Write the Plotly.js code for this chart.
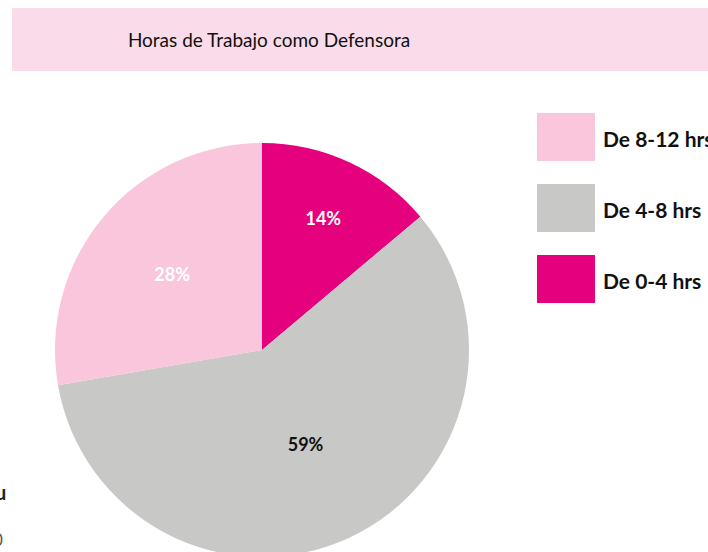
<!DOCTYPE html>
<html>
<head>
<meta charset="utf-8">
<script src="https://cdn.plot.ly/plotly-3.0.1.min.js"></script>
<style>
html,body{margin:0;padding:0;overflow:hidden;background:#fff;}
#chart{width:708px;height:600px;}
</style>
</head>
<body>
<div id="chart"></div>
<script>
// Data (pie order, clockwise from 12 o'clock)
var titleText = 'Horas de Trabajo como Defensora';
var categories = ['De 0-4 hrs', 'De 4-8 hrs', 'De 8-12 hrs'];
var values = [14, 59, 28];
var percentLabels = ['14%', '59%', '28%'];
var colors = ['#e5007d', '#c8c8c6', '#f9c6dc'];
var labelColors = ['#ffffff', '#111111', '#ffffff'];

var W = 708, H = 600;
function px(x){ return x / W; }
function py(y){ return 1 - y / H; }

var trace = {
  type: 'pie',
  labels: categories,
  values: values,
  text: percentLabels,
  textinfo: 'text',
  textposition: 'inside',
  insidetextorientation: 'horizontal',
  sort: false,
  direction: 'clockwise',
  rotation: 0,
  marker: {colors: colors, line: {width: 0}},
  textfont: {family: 'Lato, sans-serif', size: 18, color: labelColors, weight: 'bold'},
  domain: {x: [px(55), px(469)], y: [py(557), py(143)]},
  showlegend: false,
  hoverinfo: 'label+text'
};

var shapes = [{
  type: 'rect', xref: 'paper', yref: 'paper',
  x0: px(12), x1: px(720), y0: py(71), y1: py(8),
  fillcolor: '#fadbe9', line: {width: 0}, layer: 'below'
}];
var annotations = [];
var legendTop = 113, legendStep = 71, boxW = 58, boxH = 48;
// legend lists the categories in reverse pie order
for (var k = 0; k < categories.length; k++) {
  var i = categories.length - 1 - k;
  var boxTop = legendTop + k * legendStep;
  shapes.push({
    type: 'rect', xref: 'paper', yref: 'paper',
    x0: px(537), x1: px(537 + boxW), y0: py(boxTop + boxH), y1: py(boxTop),
    fillcolor: colors[i], line: {width: 0}
  });
  annotations.push({
    xref: 'paper', yref: 'paper', x: px(601), y: py(boxTop + boxH / 2 + 1),
    xanchor: 'left', yanchor: 'middle', showarrow: false,
    text: categories[i],
    font: {family: 'Lato, sans-serif', size: 21, color: '#111', weight: 'bold'}
  });
}
// clipped remnants at bottom-left edge
annotations.push({xref:'paper', yref:'paper', x: px(8), y: py(492), xanchor:'right', yanchor:'middle', showarrow:false, text:'u', font:{family:'Lato, sans-serif', size:20, color:'#222', weight:'bold'}});
annotations.push({xref:'paper', yref:'paper', x: px(5), y: py(539), xanchor:'right', yanchor:'middle', showarrow:false, text:'0', font:{family:'Lato, sans-serif', size:17, color:'#555'}});

var layout = {
  width: W, height: H,
  margin: {l: 0, r: 0, t: 0, b: 0},
  paper_bgcolor: '#ffffff',
  title: {
    text: titleText,
    x: px(269), xanchor: 'center',
    y: py(40), yanchor: 'middle',
    font: {family: 'Lato, sans-serif', size: 19, color: '#111111'}
  },
  shapes: shapes,
  annotations: annotations,
  showlegend: false
};

Plotly.newPlot('chart', [trace], layout, {displayModeBar: false, staticPlot: true});
</script>
</body>
</html>
